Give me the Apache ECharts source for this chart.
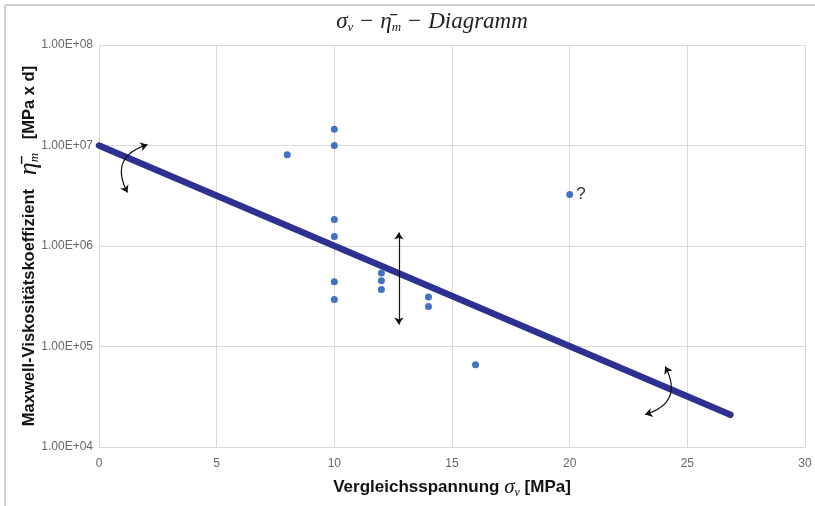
<!DOCTYPE html>
<html><head><meta charset="utf-8">
<script src="https://cdn.jsdelivr.net/npm/echarts@6/dist/echarts.min.js"></script>
<style>html,body{margin:0;padding:0;background:#fff}#c{width:815px;height:506px}</style>
</head><body><div id="c"></div>
<script>
// Data
const pointsX = [8, 10, 10, 10, 10, 10, 10, 12, 12, 12, 14, 14, 16, 20];
const pointsY = [8.1e6, 1.45e7, 1.0e7, 1.84e6, 1.24e6, 4.4e5, 2.94e5, 5.4e5, 4.5e5, 3.7e5, 3.1e5, 2.5e5, 6.6e4, 3.25e6];
const questionIndex = 13;
const trendX = [0, 26.83];
const trendY = [1.0e7, 2.09e4];
const xTicks = [0, 5, 10, 15, 20, 25, 30];
const yTickLabels = ['1.00E+04', '1.00E+05', '1.00E+06', '1.00E+07', '1.00E+08'];
const vArrowX = [12.74, 12.74];
const vArrowY = [1.36e6, 1.66e5];
const arc1 = [[2.06, 1.02e7], [1.21, 3.4e6]];
const arc2 = [[24.06, 6.32e4], [23.21, 2.1e4]];

const chart = echarts.init(document.getElementById('c'));
const scatterData = pointsX.map((x, i) => {
  const d = { value: [x, pointsY[i]] };
  if (i === questionIndex) d.label = { show: true, formatter: '?', position: 'right', distance: 3, fontSize: 17, color: '#333', fontFamily: 'Liberation Sans' };
  return d;
});
const serif = 'Liberation Serif';
chart.setOption({
  animation: false,
  backgroundColor: '#fff',
  title: {
    text: '{s|σ}{sub|v}{n| − }{s|η̄}{sub|m}{n| − Diagramm}',
    left: 427, top: 5, textAlign: 'center',
    textStyle: {
      fontWeight: 'normal',
      rich: {
        s: { fontFamily: serif, fontStyle: 'italic', fontWeight: 'normal', fontSize: 23, color: '#222' },
        n: { fontFamily: serif, fontStyle: 'italic', fontWeight: 'normal', fontSize: 23, color: '#222' },
        sub: { fontFamily: serif, fontStyle: 'italic', fontWeight: 'normal', fontSize: 13, color: '#222', padding: [11, 0, 0, 0] }
      }
    }
  },
  grid: { left: 99, right: 10, top: 45, bottom: 59, containLabel: false, outerBoundsMode: 'none' },
  xAxis: {
    type: 'value', min: 0, max: 30, interval: 5,
    axisLine: { show: true, lineStyle: { color: '#d9d9d9', width: 1 } },
    axisTick: { show: false },
    splitLine: { show: true, lineStyle: { color: '#d9d9d9' } },
    axisLabel: { color: '#666', fontSize: 12, fontFamily: 'Liberation Sans', margin: 11,
      formatter: v => xTicks.indexOf(v) >= 0 ? String(v) : '' },
    name: '{b|Vergleichsspannung }{g|σ}{sub|v}{b| [MPa]}',
    nameLocation: 'middle', nameGap: 29,
    nameTextStyle: { rich: {
      b: { fontFamily: 'Liberation Sans', fontWeight: 'bold', fontSize: 17, color: '#111' },
      g: { fontFamily: serif, fontStyle: 'italic', fontSize: 21, color: '#111' },
      sub: { fontFamily: serif, fontStyle: 'italic', fontSize: 12, color: '#111', padding: [11, 0, 0, 0] }
    } }
  },
  yAxis: {
    type: 'log', logBase: 10, min: 1e4, max: 1e8,
    axisLine: { show: true, lineStyle: { color: '#d9d9d9', width: 1 } },
    axisTick: { show: false },
    splitLine: { show: true, lineStyle: { color: '#d9d9d9' } },
    minorTick: { show: false },
    axisLabel: { color: '#666', fontSize: 12, fontFamily: 'Liberation Sans', margin: 6,
      formatter: v => { const e = Math.round(Math.log10(v)); return yTickLabels[e - 4] || ''; } },
    name: '{b|Maxwell-Viskositätskoeffizient   }{g|η̄}{sub|m}{b|   [MPa x d]}',
    nameLocation: 'middle', nameRotate: 90, nameGap: 57, nameMoveOverlap: false,
    nameTextStyle: { rich: {
      b: { fontFamily: 'Liberation Sans', fontWeight: 'bold', fontSize: 16.5, color: '#111' },
      g: { fontFamily: serif, fontStyle: 'italic', fontSize: 26, color: '#111' },
      sub: { fontFamily: serif, fontStyle: 'italic', fontSize: 13, color: '#111', padding: [12, 0, 0, 0] }
    } }
  },
  series: [
    { type: 'line', data: trendX.map((x, i) => [x, trendY[i]]), showSymbol: false, symbol: 'none',
      lineStyle: { color: '#2E3192', width: 6.5, cap: 'round' }, z: 2 },
    { type: 'scatter', data: scatterData, symbolSize: 7, itemStyle: { color: '#4472C4', opacity: 1 }, z: 3 },
    { type: 'lines', coordinateSystem: 'cartesian2d', z: 4,
      symbol: ['arrow', 'arrow'], symbolSize: 7,
      lineStyle: { color: '#111', width: 1.2, curveness: 0, opacity: 1 },
      data: [{ coords: vArrowX.map((x, i) => [x, vArrowY[i]]) }] },
    { type: 'lines', coordinateSystem: 'cartesian2d', z: 4,
      symbol: ['arrow', 'arrow'], symbolSize: 7,
      lineStyle: { color: '#111', width: 1.2, curveness: -0.6, opacity: 1 },
      data: [{ coords: arc1 }] },
    { type: 'lines', coordinateSystem: 'cartesian2d', z: 4,
      symbol: ['arrow', 'arrow'], symbolSize: 7,
      lineStyle: { color: '#111', width: 1.2, curveness: 0.6, opacity: 1 },
      data: [{ coords: arc2 }] }
  ],
  graphic: [
    { type: 'line', shape: { x1: 5, y1: 5, x2: 815, y2: 5 }, style: { stroke: '#cfcfcf', lineWidth: 2 } },
    { type: 'line', shape: { x1: 5, y1: 5, x2: 5, y2: 506 }, style: { stroke: '#cfcfcf', lineWidth: 2 } }
  ]
});
</script></body></html>
